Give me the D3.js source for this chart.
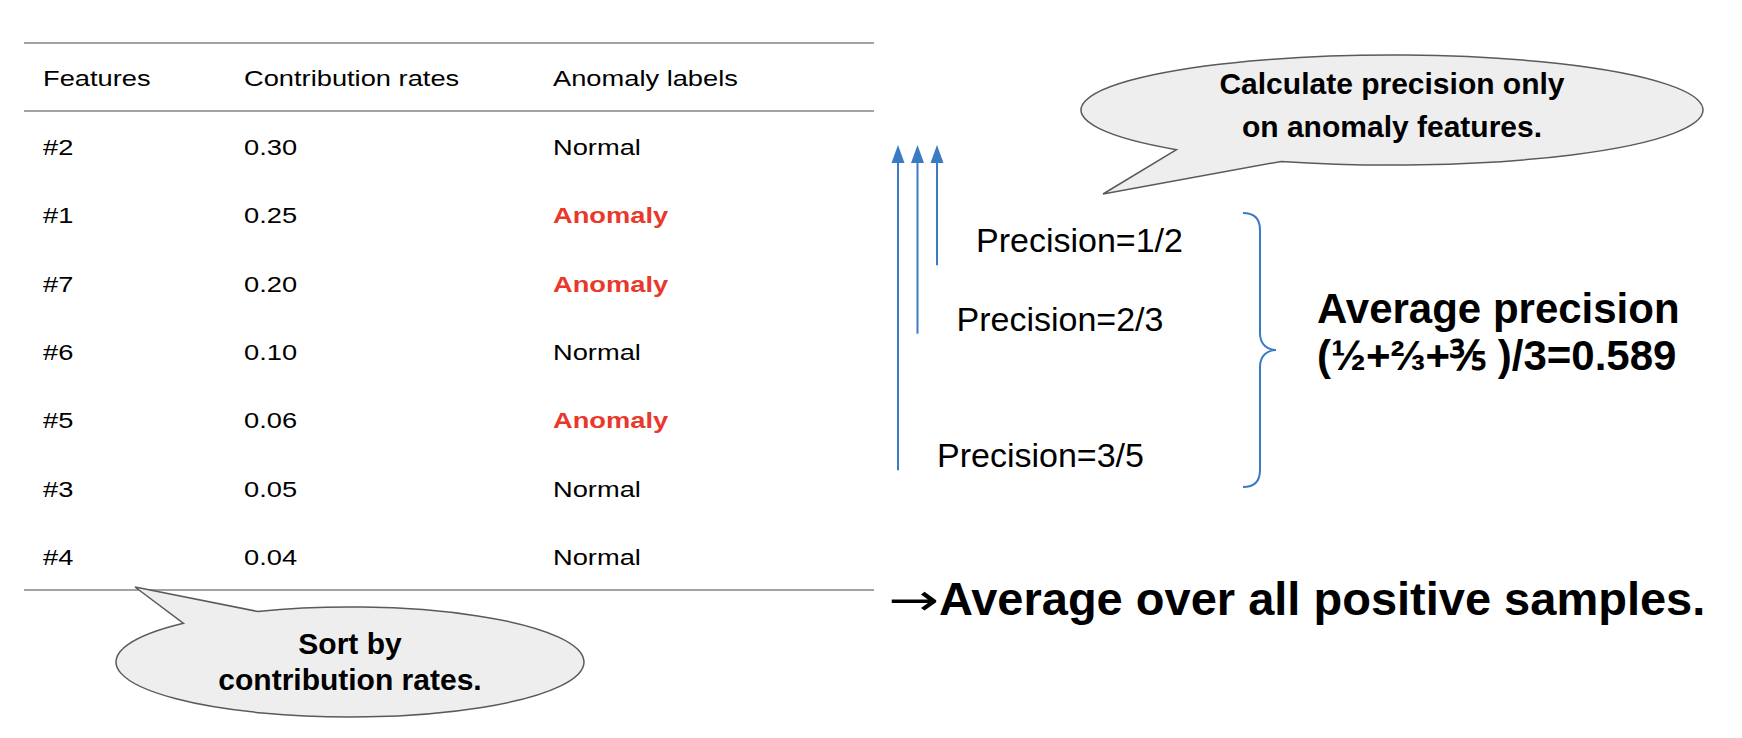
<!DOCTYPE html>
<html>
<head>
<meta charset="utf-8">
<script src="https://cdn.jsdelivr.net/npm/d3@7"></script>
<style>
  body { margin: 0; background: #fff; }
  svg { display: block; font-family: "Liberation Sans", Arial, Helvetica, sans-serif; }
</style>
</head>
<body>
<svg id="chart" width="1742" height="738"></svg>
<script>
// table data, already sorted by contribution rate
let headers = ["Features", "Contribution rates", "Anomaly labels"];
let features = ["#2", "#1", "#7", "#6", "#5", "#3", "#4"];
let rates = [0.30, 0.25, 0.20, 0.10, 0.06, 0.05, 0.04];
let labels = ["Normal", "Anomaly", "Anomaly", "Normal", "Anomaly", "Normal", "Normal"];

// precision at each anomaly rank (rank index into rows)
let precisionRanks = [1, 2, 4];
let precisionLabels = ["Precision=1/2", "Precision=2/3", "Precision=3/5"];

let bubbleTop = ["Calculate precision only", "on anomaly features."];
let bubbleBottom = ["Sort by", "contribution rates."];
let avgLines = ["Average precision", "(\u00BD+\u2154+\u2157 )/3=0.589"];
let footerArrow = "\u2192";
let footer = "Average over all positive samples.";

let blue = "#3b7bc4";
let red = "#e8392c";
let stretch = 1.24; // table text is drawn a bit wide

let svg = d3.select("#chart");

let rowY = d3.scaleLinear().domain([0, features.length - 1]).range([155, 565]);
let colX = d3.scaleOrdinal().domain(["feature", "rate", "label"]).range([43, 244, 553]);

let table = svg.append("g").attr("class", "table");

// horizontal rules
table.selectAll("line.rule")
  .data([43, 111, 590])
  .join("line")
  .attr("class", "rule")
  .attr("x1", 24).attr("x2", 874)
  .attr("y1", d => d).attr("y2", d => d)
  .style("stroke", "#a3a3a3")
  .style("stroke-width", 2);

function cell(g, x, y, txt) {
  return g.append("text")
    .attr("transform", "translate(" + x + "," + y + ") scale(" + stretch + ",1)")
    .style("font-size", "22px")
    .text(txt);
}

headers.forEach(function(h, i) {
  cell(table, colX.range()[i], 86, h);
});

features.forEach(function(f, i) {
  let y = rowY(i);
  cell(table, colX("feature"), y, f);
  cell(table, colX("rate"), y, d3.format(".2f")(rates[i]));
  let t = cell(table, colX("label"), y, labels[i]);
  if (labels[i] === "Anomaly") {
    t.style("fill", red).style("font-weight", "bold");
  }
});

// arrows, one per anomaly rank
let arrows = svg.append("g").attr("class", "arrows");
let arrowX = d3.scaleLinear().domain([0, 2]).range([937, 898]);

precisionRanks.forEach(function(r, i) {
  let x = arrowX(i);
  let bottom = rowY(r) + 42;
  arrows.append("line")
    .attr("x1", x).attr("x2", x)
    .attr("y1", 158).attr("y2", bottom)
    .style("stroke", blue)
    .style("stroke-width", 2);
  arrows.append("path")
    .attr("d", "M" + x + ",145L" + (x + 6.5) + ",163L" + (x - 6.5) + ",163Z")
    .style("fill", blue);
  arrows.append("text")
    .attr("x", x + 39)
    .attr("y", rowY(r) + (i === 0 ? 29 : 39))
    .style("font-size", "34px")
    .text(precisionLabels[i]);
});

// curly brace
let bx = 1260, by0 = 213, by1 = 487, bmid = 350;
let brace = d3.path();
brace.moveTo(bx - 17, by0);
brace.bezierCurveTo(bx - 6, by0, bx, by0 + 6, bx, by0 + 17);
brace.lineTo(bx, bmid - 17);
brace.bezierCurveTo(bx, bmid - 5, bx + 8, bmid, bx + 16, bmid);
brace.bezierCurveTo(bx + 8, bmid, bx, bmid + 5, bx, bmid + 17);
brace.lineTo(bx, by1 - 17);
brace.bezierCurveTo(bx, by1 - 6, bx - 6, by1, bx - 17, by1);
svg.append("path")
  .attr("d", brace.toString())
  .style("fill", "none")
  .style("stroke", blue)
  .style("stroke-width", 2);

svg.selectAll("text.avg")
  .data(avgLines)
  .join("text")
  .attr("class", "avg")
  .attr("x", 1317)
  .attr("y", (d, i) => 323 + i * 47)
  .style("font-size", "42px")
  .style("font-weight", "bold")
  .text(d => d);

// speech bubbles: ellipse with a tail
function bubble(cx, cy, rx, ry, p1, p2, tip, lines, y0, gap) {
  let a1 = Math.atan2((p1[1] - cy) / ry, (p1[0] - cx) / rx);
  let a2 = Math.atan2((p2[1] - cy) / ry, (p2[0] - cx) / rx);
  let s = [cx + rx * Math.cos(a2), cy + ry * Math.sin(a2)];
  let e = [cx + rx * Math.cos(a1), cy + ry * Math.sin(a1)];
  // take the long way round, skipping the gap where the tail sits
  let diff = Math.atan2(Math.sin(a1 - a2), Math.cos(a1 - a2));
  let sweep = diff > 0 ? 0 : 1;
  let d = "M" + s + "A" + rx + "," + ry + " 0 1," + sweep + " " + e + "L" + tip + "Z";
  let g = svg.append("g").attr("class", "bubble");
  g.append("path")
    .attr("d", d)
    .style("fill", "#eeeeee")
    .style("stroke", "#5a5a5a")
    .style("stroke-width", 1.5);
  g.selectAll("text")
    .data(lines)
    .join("text")
    .attr("x", cx)
    .attr("y", (t, i) => y0 + i * gap)
    .attr("text-anchor", "middle")
    .style("font-size", "30px")
    .style("font-weight", "bold")
    .text(t => t);
}

bubble(1392, 110, 311, 55, [1180, 149], [1280, 162], [1103, 194], bubbleTop, 94, 43);
bubble(350, 662, 234, 55, [182, 623], [255, 610], [135, 587], bubbleBottom, 654, 36);

// footer: a long thin arrow, then the bold sentence
svg.append("text")
  .attr("transform", "translate(888,615) scale(1.38,1)")
  .style("font-family", "'DejaVu Sans'")
  .style("font-size", "44px")
  .text(footerArrow);
svg.append("text")
  .attr("x", 939)
  .attr("y", 615)
  .style("font-size", "47px")
  .style("font-weight", "bold")
  .text(footer);
</script>
</body>
</html>
